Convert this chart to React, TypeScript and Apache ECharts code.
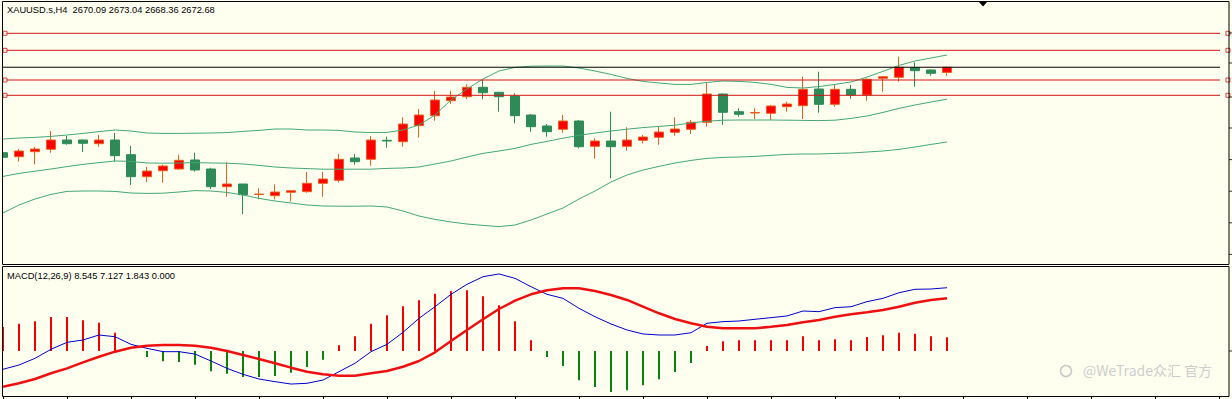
import React, { useEffect, useRef } from "react";
import * as echarts from "echarts";

const symbolName = "XAUUSD.s,H4";

const opens = [
  2629.95, 2627.95, 2630.45, 2631.65, 2636.3, 2636.3, 2634.45, 2636.3, 2628.95, 2617.95,
  2620.95, 2621.8, 2626.3, 2621.8, 2612.95, 2614.3, 2609.05, 2608.45, 2610.15, 2610.45,
  2614.65, 2616.15, 2627.3, 2626.65, 2636.15, 2635.45, 2643.45, 2648.45, 2655.95, 2657.95,
  2662.65, 2660.15, 2658.3, 2648.8, 2643.3, 2641.65, 2645.8, 2633.15, 2635.8, 2633.15,
  2636.15, 2637.65, 2640.15, 2641.65, 2645.15, 2659.3, 2650.45, 2649.8, 2649.65, 2652.95,
  2653.45, 2661.8, 2654.15, 2661.65, 2658.8, 2667.15, 2667.65, 2672.45, 2671.3, 2670.09,
];
const highs = [
  2630.45, 2631.8, 2632.8, 2640.8, 2638.3, 2636.55, 2638.8, 2639.8, 2633.3, 2622.8,
  2623.95, 2628.95, 2629.95, 2622.45, 2625.15, 2614.3, 2612.15, 2614.15, 2611.05, 2620.3,
  2620.3, 2629.3, 2629.3, 2638.3, 2637.95, 2647.65, 2651.8, 2660.8, 2660.8, 2664.15,
  2666.3, 2660.4, 2659.65, 2649.3, 2644.3, 2648.8, 2646.3, 2637.15, 2650.45, 2642.65,
  2638.8, 2642.8, 2647.65, 2646.3, 2665.15, 2659.55, 2652.15, 2652.15, 2653.8, 2655.45,
  2667.95, 2670.45, 2664.15, 2663.8, 2667.15, 2668.3, 2677.95, 2675.15, 2671.65, 2673.04,
];
const lows = [
  2626.65, 2625.45, 2624.15, 2629.95, 2633.95, 2630.3, 2632.95, 2625.45, 2613.8, 2615.3,
  2614.95, 2621.45, 2620.45, 2611.8, 2607.95, 2599.3, 2606.65, 2606.65, 2605.55, 2609.95,
  2607.95, 2615.15, 2623.95, 2623.45, 2632.45, 2632.95, 2637.45, 2645.95, 2654.3, 2656.65,
  2656.65, 2650.45, 2644.65, 2640.45, 2637.95, 2639.95, 2632.15, 2626.95, 2617.15, 2630.95,
  2634.65, 2633.95, 2638.45, 2639.3, 2642.95, 2643.8, 2647.95, 2646.8, 2646.3, 2650.45,
  2646.8, 2649.95, 2652.95, 2656.95, 2655.95, 2660.45, 2665.45, 2662.95, 2668.45, 2668.36,
];
const closes = [
  2627.65, 2630.8, 2631.8, 2636.3, 2634.45, 2634.65, 2636.3, 2628.45, 2617.95, 2620.8,
  2623.3, 2626.15, 2621.3, 2612.95, 2614.3, 2608.95, 2609.3, 2610.3, 2610.95, 2614.65,
  2616.8, 2626.65, 2625.45, 2636.3, 2635.8, 2644.3, 2648.8, 2656.3, 2657.8, 2662.65,
  2659.95, 2657.95, 2648.45, 2642.95, 2640.45, 2645.8, 2632.95, 2635.8, 2632.95, 2636.3,
  2637.8, 2640.3, 2641.8, 2645.15, 2659.3, 2650.15, 2649.15, 2650.05, 2653.3, 2654.3,
  2661.65, 2654.15, 2661.65, 2658.8, 2666.65, 2667.95, 2672.65, 2670.95, 2669.65, 2672.68,
];

const bbUpper = [
  2636.8, 2637.3, 2637.6, 2638.1, 2638.8, 2639.6, 2640.5, 2641.3, 2640.8, 2639.8,
  2639.6, 2639.6, 2639.7, 2639.8, 2640.0, 2640.6, 2641.1, 2641.8, 2641.8, 2641.3,
  2641.3, 2641.1, 2640.3, 2640.0, 2640.1, 2641.3, 2643.8, 2648.8, 2656.3, 2661.8,
  2666.8, 2670.8, 2672.6, 2673.2, 2673.3, 2673.3, 2672.3, 2670.8, 2669.1, 2667.1,
  2665.6, 2664.8, 2664.1, 2664.1, 2665.1, 2665.8, 2665.6, 2665.1, 2664.1, 2662.6,
  2662.3, 2663.0, 2664.1, 2665.3, 2667.8, 2670.6, 2673.6, 2675.8, 2677.3, 2678.8,
];
const bbMiddle = [
  2618.1, 2619.6, 2620.7, 2621.8, 2623.0, 2624.1, 2625.0, 2625.8, 2625.6, 2624.8,
  2624.7, 2624.8, 2625.0, 2624.8, 2624.7, 2624.3, 2623.6, 2622.8, 2622.3, 2622.0,
  2621.7, 2621.7, 2621.7, 2621.7, 2622.1, 2622.3, 2622.8, 2624.3, 2625.8, 2627.8,
  2629.6, 2630.8, 2632.1, 2634.1, 2635.6, 2637.2, 2638.6, 2639.8, 2640.8, 2641.7,
  2642.5, 2643.1, 2643.7, 2644.8, 2645.7, 2646.2, 2646.3, 2646.3, 2646.3, 2646.2,
  2646.1, 2646.0, 2646.2, 2647.1, 2648.3, 2650.1, 2652.1, 2653.8, 2655.3, 2656.7,
];
const bbLower = [
  2599.8, 2603.8, 2606.8, 2609.1, 2610.6, 2610.8, 2610.8, 2610.6, 2609.8, 2609.6,
  2609.7, 2610.3, 2611.0, 2610.8, 2610.1, 2608.8, 2607.1, 2605.8, 2604.8, 2603.8,
  2603.3, 2603.2, 2603.2, 2603.3, 2602.8, 2600.8, 2598.3, 2596.6, 2595.3, 2594.3,
  2593.6, 2593.0, 2593.8, 2596.3, 2599.3, 2602.3, 2606.8, 2610.8, 2615.3, 2618.8,
  2621.3, 2623.1, 2624.8, 2626.1, 2627.1, 2627.6, 2627.8, 2628.1, 2628.6, 2629.1,
  2629.3, 2629.3, 2629.6, 2629.8, 2630.3, 2630.8, 2631.6, 2632.8, 2634.1, 2635.3,
];

const levelLines = [2689.65, 2681.15, 2666.3, 2658.65];
const bidPrice = 2672.68;
const priceTicks = [2689.8, 2674.8, 2657.8, 2642.3, 2626.5, 2610.7, 2594.9, 2579.1];
const macdTicks = [0];

const macdLabel = "MACD(12,26,9)";
const macdDif = [
  -2.47, -1.89, -0.99, 0.23, 1.17, 1.49, 2.16, 1.93, 0.9, 0.36,
  -0.09, -0.09, -0.41, -1.35, -2.34, -3.15, -3.78, -4.14, -4.46, -4.36,
  -3.92, -2.79, -1.66, -0.09, 0.9, 2.52, 4.41, 5.98, 7.65, 9.0,
  10.03, 10.4, 9.81, 8.68, 7.65, 7.11, 5.76, 4.63, 3.65, 2.84,
  2.3, 2.16, 2.16, 2.47, 3.74, 3.96, 4.05, 4.28, 4.5, 4.73,
  5.4, 5.31, 5.85, 5.98, 6.66, 7.11, 7.87, 8.33, 8.37, 8.545,
];
const macdDea = [
  -4.82, -4.36, -3.78, -3.01, -2.34, -1.53, -0.77, -0.09, 0.45, 0.72,
  0.81, 0.81, 0.72, 0.45, 0.0, -0.54, -1.08, -1.66, -2.25, -2.79,
  -3.15, -3.33, -3.33, -3.01, -2.7, -2.12, -1.35, -0.18, 1.35, 2.84,
  4.28, 5.67, 6.79, 7.65, 8.19, 8.46, 8.46, 8.1, 7.56, 6.89,
  5.98, 5.09, 4.32, 3.74, 3.28, 3.06, 3.06, 3.06, 3.28, 3.51,
  3.89, 4.19, 4.63, 4.95, 5.22, 5.54, 5.98, 6.52, 6.89, 7.127,
];
const macdHist = [
  3.24, 3.69, 4.01, 4.59, 4.59, 4.14, 3.82, 2.47, 0.0, -0.81,
  -1.39, -1.49, -1.85, -2.74, -3.06, -3.51, -3.51, -3.38, -2.93, -2.16,
  -1.17, 0.77, 1.98, 3.69, 4.82, 6.03, 6.84, 7.74, 8.06, 8.19,
  7.38, 6.17, 4.01, 1.44, -0.81, -2.03, -3.96, -4.86, -5.54, -5.31,
  -4.63, -3.82, -2.84, -1.62, 0.68, 1.31, 1.44, 1.44, 1.44, 1.44,
  1.98, 1.44, 1.58, 1.44, 1.89, 2.12, 2.47, 2.34, 1.98, 1.843,
];

const watermark = "@WeTrade众汇 官方";

const BG = "#FFFFF0";
const TOTAL_SLOTS = 77;
const BULL_FILL = "#FF0000";
const BULL_EDGE = "#E8601C";
const BEAR = "#2E8B57";
const BAND = "#45A676";
const LEVEL = "#D01414";
const EDGE_X = 76.72;

export default function App() {
  const ref = useRef<HTMLDivElement>(null);

  useEffect(() => {
    const chart = echarts.init(ref.current as HTMLDivElement, null, { renderer: "svg" });
    const cats = Array.from({ length: TOTAL_SLOTS }, (_, i) => String(i));
    const candleData = opens.map((o, i) => [o, closes[i], lows[i], highs[i]]);
    const n = opens.length - 1;
    const header = `${symbolName}  ${opens[n].toFixed(2)} ${highs[n].toFixed(2)} ${lows[n].toFixed(2)} ${closes[n].toFixed(2)}`;
    const macdText = `${macdLabel} ${macdDif[n].toFixed(3)} ${macdDea[n].toFixed(3)} ${macdHist[n].toFixed(3)} 0.000`;

    const levelSeries = levelLines.map((p) => ({
      type: "line",
      xAxisIndex: 1,
      yAxisIndex: 0,
      data: [[-0.5, p], [76.6, p]],
      symbol: "none",
      silent: true,
      clip: false,
      lineStyle: { color: LEVEL, width: 1 },
      z: 5,
    }));

    const handleData: number[][] = [];
    levelLines.forEach((p) => {
      handleData.push([0.125, p]);
      handleData.push([76.56, p]);
    });

    const bandSeries = [bbUpper, bbMiddle, bbLower].map((d) => ({
      type: "line",
      xAxisIndex: 0,
      yAxisIndex: 0,
      data: d,
      symbol: "none",
      silent: true,
      lineStyle: { color: BAND, width: 1 },
      z: 4,
    }));

    const option: any = {
      animation: false,
      backgroundColor: BG,
      grid: [
        { left: 3, top: 2, width: 1216, height: 262 },
        { left: 3, top: 267, width: 1216, height: 130 },
      ],
      xAxis: [
        {
          type: "category",
          gridIndex: 0,
          data: cats,
          boundaryGap: false,
          axisLine: { show: false },
          axisTick: { show: false },
          axisLabel: { show: false },
          splitLine: { show: false },
        },
        {
          type: "value",
          gridIndex: 0,
          min: 0,
          max: 76,
          show: false,
        },
        {
          type: "category",
          gridIndex: 1,
          data: cats,
          boundaryGap: false,
          position: "bottom",
          axisLine: { show: false, onZero: false },
          axisTick: {
            show: true,
            interval: 3,
            length: 3,
            inside: false,
            lineStyle: { color: "#000" },
          },
          axisLabel: { show: false, interval: 3 },
          splitLine: { show: false },
        },
        {
          type: "value",
          gridIndex: 1,
          min: 0,
          max: 76,
          show: false,
        },
      ],
      yAxis: [
        {
          type: "value",
          gridIndex: 0,
          min: 2574.3,
          max: 2705.3,
          show: false,
        },
        {
          type: "value",
          gridIndex: 1,
          min: -6.21,
          max: 11.34,
          show: false,
        },
      ],
      series: [
        {
          type: "candlestick",
          xAxisIndex: 0,
          yAxisIndex: 0,
          data: candleData,
          barWidth: 10,
          z: 3,
          itemStyle: {
            color: BULL_FILL,
            color0: BEAR,
            borderColor: BULL_EDGE,
            borderColor0: BEAR,
            borderWidth: 1,
          },
        },
        ...bandSeries,
        ...levelSeries,
        {
          type: "line",
          xAxisIndex: 1,
          yAxisIndex: 0,
          data: [[-0.5, bidPrice], [76.6, bidPrice]],
          symbol: "none",
          silent: true,
          clip: false,
          lineStyle: { color: "#000", width: 1 },
          z: 5,
        },
        {
          type: "scatter",
          xAxisIndex: 1,
          yAxisIndex: 0,
          data: handleData,
          symbol: "rect",
          symbolSize: 4,
          clip: false,
          silent: true,
          itemStyle: { color: BG, borderColor: LEVEL, borderWidth: 1 },
          z: 6,
        },
        {
          type: "scatter",
          xAxisIndex: 1,
          yAxisIndex: 0,
          data: priceTicks.map((p) => [EDGE_X, p]),
          symbol: "rect",
          symbolSize: [3, 1],
          clip: false,
          silent: true,
          itemStyle: { color: "#000" },
          z: 6,
        },
        {
          type: "scatter",
          xAxisIndex: 3,
          yAxisIndex: 1,
          data: macdTicks.map((v) => [EDGE_X, v]),
          symbol: "rect",
          symbolSize: [3, 1],
          clip: false,
          silent: true,
          itemStyle: { color: "#000" },
          z: 6,
        },
        {
          type: "bar",
          xAxisIndex: 2,
          yAxisIndex: 1,
          data: macdHist,
          barWidth: 2,
          silent: true,
          itemStyle: {
            color: (p: any) => (p.value >= 0 ? "#EE0000" : "#0E800E"),
          },
          z: 2,
        },
        {
          type: "line",
          xAxisIndex: 2,
          yAxisIndex: 1,
          data: macdDif,
          symbol: "none",
          silent: true,
          lineStyle: { color: "#0000C8", width: 1 },
          z: 3,
        },
        {
          type: "line",
          xAxisIndex: 2,
          yAxisIndex: 1,
          data: macdDea,
          symbol: "none",
          silent: true,
          lineStyle: { color: "#EE1010", width: 2.5 },
          z: 4,
        },
      ],
      graphic: [
        {
          type: "rect",
          z: 100,
          silent: true,
          shape: { x: 0, y: 0, width: 2.5, height: 399 },
          style: { fill: BG },
        },
        {
          type: "rect",
          z: 101,
          silent: true,
          shape: { x: 2.5, y: 1.5, width: 1226.5, height: 263 },
          style: { fill: "none", stroke: "#000", lineWidth: 1 },
        },
        {
          type: "rect",
          z: 101,
          silent: true,
          shape: { x: 2.5, y: 266.5, width: 1226.5, height: 130 },
          style: { fill: "none", stroke: "#000", lineWidth: 1 },
        },
        {
          type: "polygon",
          z: 101,
          silent: true,
          shape: { points: [[978.5, 1.5], [987.5, 1.5], [983, 6.5]] },
          style: { fill: "#000" },
        },
        {
          type: "text",
          z: 102,
          x: 7,
          y: 10,
          silent: true,
          style: {
            text: header,
            fontSize: 9.3,
            fontFamily: "Liberation Sans",
            fill: "#000",
            verticalAlign: "middle",
          },
        },
        {
          type: "text",
          z: 102,
          x: 7,
          y: 276,
          silent: true,
          style: {
            text: macdText,
            fontSize: 9.3,
            fontFamily: "Liberation Sans",
            fill: "#000",
            verticalAlign: "middle",
          },
        },
        {
          type: "circle",
          z: 102,
          silent: true,
          shape: { cx: 1066, cy: 371, r: 5.5 },
          style: { fill: "none", stroke: "#C8C8C8", lineWidth: 1.5 },
        },
        {
          type: "text",
          z: 102,
          x: 1083,
          y: 370,
          silent: true,
          style: {
            text: watermark,
            fontSize: 14,
            fontFamily: "Noto Sans CJK SC",
            fill: "#CDCDCD",
            verticalAlign: "middle",
          },
        },
      ],
    };

    chart.setOption(option);
    return () => {
      chart.dispose();
    };
  }, []);

  return (
    <div
      ref={ref}
      style={{ position: "fixed", left: 0, top: 0, width: 1232, height: 399 }}
    />
  );
}
